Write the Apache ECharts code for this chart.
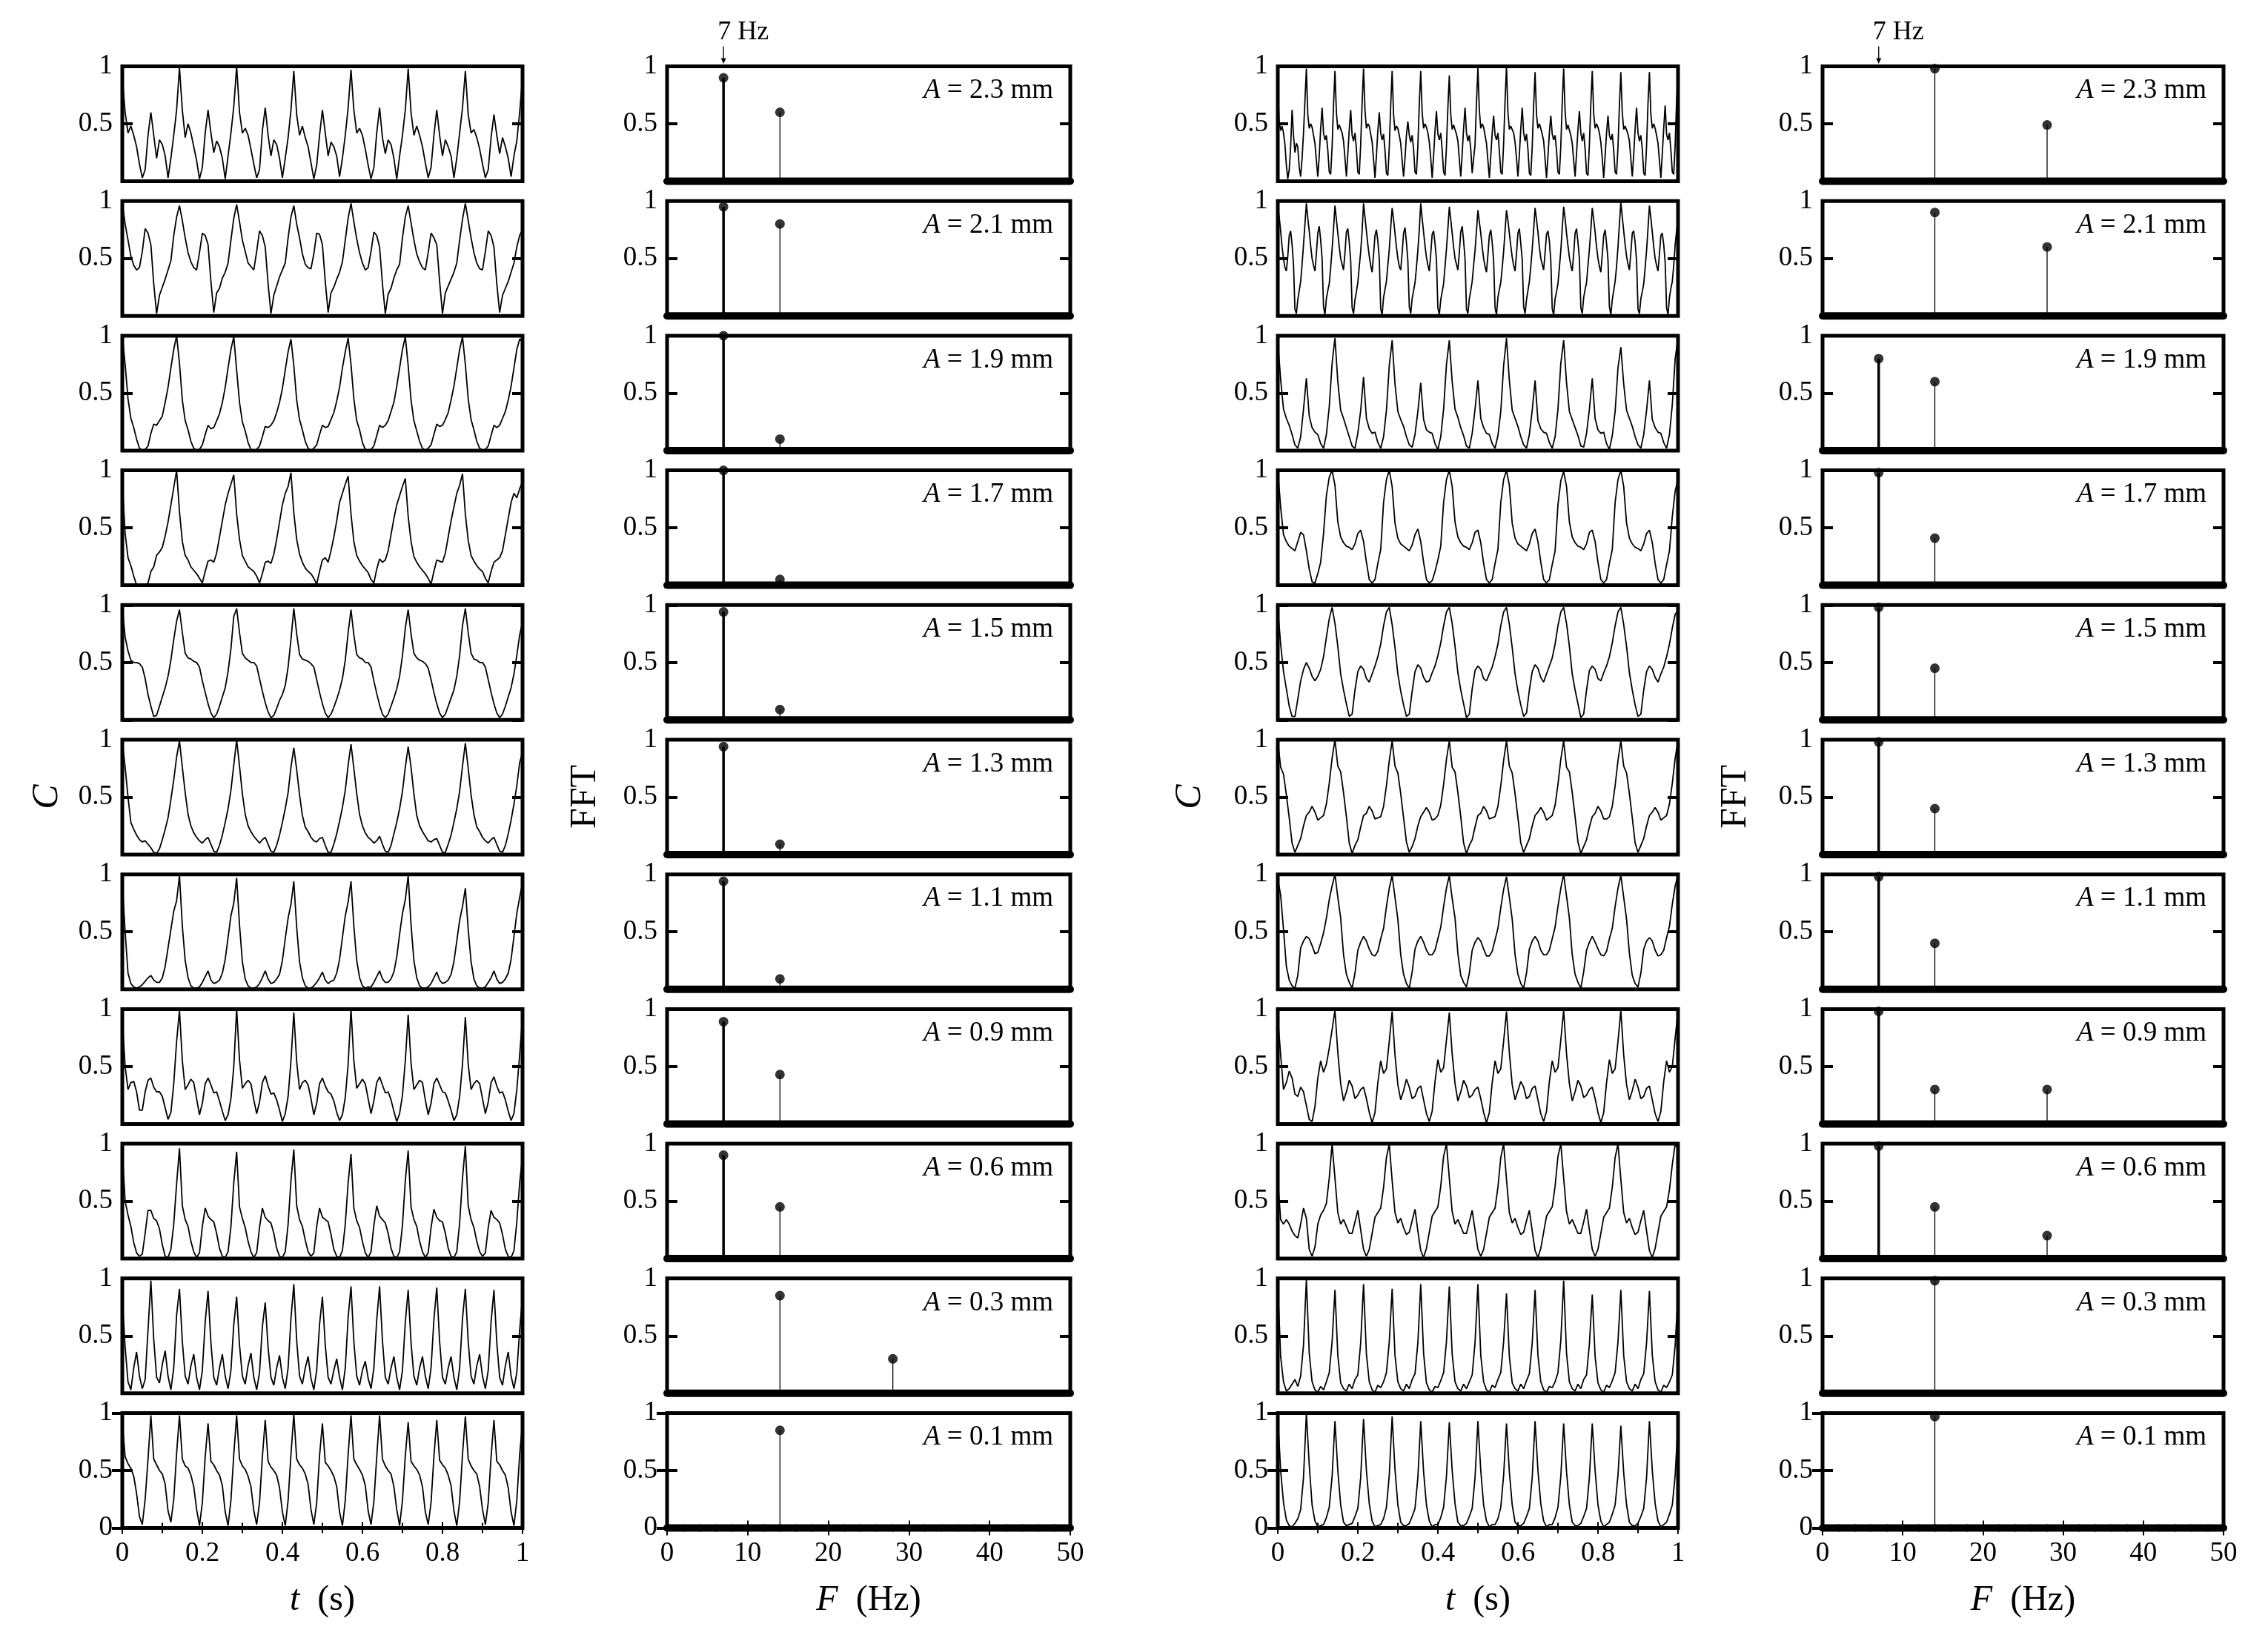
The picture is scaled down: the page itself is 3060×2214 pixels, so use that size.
<!DOCTYPE html>
<html><head><meta charset="utf-8">
<script src="https://cdn.jsdelivr.net/npm/echarts@6/dist/echarts.min.js"></script>
<style>html,body{margin:0;padding:0;background:#fff}#c{width:3060px;height:2214px}</style>
</head><body><div id="c"></div>
<script>
// ---------- DATA ----------
const amplitudeLabels = ['2.3','2.1','1.9','1.7','1.5','1.3','1.1','0.9','0.6','0.3','0.1'];
const timeTickLabels = ['0','0.2','0.4','0.6','0.8','1'];
const freqTickLabels = ['0','10','20','30','40','50'];

// Left column concentration C(t), samples evenly spread over 0..1 s
const L1 = [0.90,0.60,0.42,0.48,0.40,0.30,0.15,0.03,0.10,0.40,0.60,0.40,0.20,0.36,0.32,0.22,0.03,0.20,0.40,0.62,
0.99,0.62,0.38,0.50,0.42,0.30,0.18,0.02,0.12,0.42,0.62,0.42,0.25,0.35,0.30,0.20,0.02,0.22,0.42,0.65,
1.00,0.60,0.42,0.46,0.40,0.28,0.15,0.03,0.10,0.44,0.64,0.40,0.22,0.36,0.32,0.20,0.03,0.20,0.38,0.62,
0.96,0.58,0.40,0.48,0.38,0.30,0.16,0.02,0.14,0.40,0.62,0.42,0.22,0.34,0.30,0.22,0.04,0.20,0.40,0.64,
0.97,0.62,0.42,0.46,0.40,0.28,0.14,0.02,0.12,0.42,0.64,0.38,0.24,0.36,0.32,0.20,0.02,0.22,0.40,0.62,
0.98,0.60,0.40,0.48,0.40,0.30,0.16,0.03,0.12,0.40,0.62,0.40,0.22,0.36,0.30,0.22,0.03,0.20,0.42,0.64,
0.96,0.58,0.42,0.45,0.38,0.28,0.15,0.03,0.10,0.38,0.58,0.40,0.24,0.38,0.30,0.20,0.04,0.22,0.35,0.60,
0.90];
const L2 = [0.98,0.80,0.66,0.52,0.44,0.40,0.42,0.56,0.76,0.72,0.62,0.28,0.02,0.18,0.25,0.32,0.40,0.48,0.70,0.86,
0.96,0.83,0.68,0.55,0.47,0.42,0.40,0.55,0.72,0.70,0.62,0.30,0.03,0.20,0.24,0.33,0.38,0.46,0.66,0.85,
0.97,0.82,0.66,0.56,0.46,0.43,0.40,0.56,0.74,0.70,0.60,0.28,0.02,0.18,0.26,0.34,0.40,0.46,0.68,0.86,
0.96,0.80,0.68,0.54,0.45,0.42,0.41,0.54,0.72,0.71,0.62,0.30,0.03,0.20,0.25,0.32,0.38,0.47,0.66,0.85,
0.98,0.82,0.67,0.55,0.46,0.40,0.42,0.56,0.73,0.70,0.60,0.28,0.02,0.19,0.24,0.33,0.40,0.45,0.68,0.86,
0.96,0.81,0.66,0.54,0.47,0.42,0.40,0.55,0.72,0.68,0.62,0.30,0.02,0.20,0.26,0.32,0.38,0.46,0.66,0.84,
0.98,0.83,0.68,0.55,0.46,0.41,0.40,0.56,0.74,0.70,0.60,0.28,0.03,0.18,0.24,0.30,0.38,0.46,0.60,0.70,
0.75];
const L3 = [1.00,0.75,0.45,0.28,0.20,0.10,0.02,0.00,0.01,0.04,0.15,0.23,0.22,0.26,0.30,0.42,0.55,0.72,0.88,
1.00,0.76,0.44,0.26,0.18,0.08,0.02,0.00,0.01,0.05,0.14,0.22,0.19,0.20,0.26,0.32,0.42,0.55,0.72,0.88,
0.99,0.70,0.42,0.25,0.17,0.07,0.01,0.00,0.01,0.04,0.12,0.21,0.20,0.22,0.26,0.33,0.42,0.54,0.70,0.86,
0.97,0.74,0.44,0.27,0.18,0.08,0.02,0.00,0.02,0.05,0.14,0.22,0.20,0.21,0.27,0.33,0.43,0.55,0.72,0.86,
0.98,0.75,0.45,0.26,0.18,0.07,0.01,0.00,0.01,0.04,0.13,0.22,0.20,0.22,0.26,0.34,0.42,0.56,0.72,0.88,
0.99,0.74,0.44,0.26,0.17,0.08,0.02,0.00,0.02,0.05,0.14,0.23,0.21,0.22,0.27,0.33,0.44,0.56,0.72,0.88,
0.99,0.75,0.45,0.27,0.18,0.08,0.02,0.00,0.01,0.04,0.13,0.22,0.20,0.22,0.28,0.34,0.44,0.56,0.72,0.88,
0.97,0.95];
const L4 = [0.89,0.45,0.24,0.17,0.08,0.00,0.00,0.00,0.00,0.02,0.12,0.16,0.26,0.29,0.33,0.43,0.55,0.70,0.85,
1.00,0.64,0.38,0.26,0.22,0.16,0.13,0.10,0.06,0.02,0.12,0.21,0.22,0.20,0.28,0.42,0.56,0.70,0.80,0.88,
0.96,0.62,0.40,0.26,0.21,0.16,0.14,0.12,0.08,0.02,0.10,0.20,0.21,0.19,0.27,0.40,0.55,0.70,0.80,0.86,
0.98,0.63,0.40,0.27,0.20,0.15,0.12,0.10,0.06,0.01,0.12,0.22,0.24,0.20,0.30,0.42,0.56,0.72,0.80,0.88,
0.95,0.62,0.38,0.26,0.21,0.17,0.14,0.11,0.05,0.02,0.14,0.23,0.20,0.22,0.30,0.44,0.58,0.70,0.78,0.86,
0.93,0.60,0.38,0.25,0.20,0.16,0.13,0.10,0.06,0.01,0.12,0.22,0.21,0.20,0.28,0.42,0.56,0.68,0.80,0.87,
0.97,0.62,0.39,0.26,0.21,0.17,0.14,0.12,0.06,0.02,0.12,0.20,0.22,0.24,0.30,0.44,0.58,0.72,0.80,0.76,
0.84,0.90];
const L5 = [0.98,0.72,0.60,0.52,0.50,0.50,0.49,0.46,0.36,0.22,0.12,0.03,0.04,0.12,0.20,0.28,0.38,0.52,0.70,0.86,
0.96,0.76,0.58,0.54,0.53,0.51,0.50,0.46,0.34,0.24,0.14,0.06,0.02,0.05,0.12,0.20,0.28,0.42,0.62,0.90,
0.97,0.76,0.58,0.54,0.52,0.50,0.50,0.47,0.36,0.25,0.15,0.07,0.02,0.04,0.10,0.17,0.22,0.30,0.46,0.70,
0.97,0.75,0.57,0.53,0.52,0.51,0.49,0.46,0.35,0.24,0.14,0.06,0.02,0.05,0.11,0.18,0.26,0.36,0.52,0.76,
0.96,0.74,0.57,0.54,0.53,0.50,0.50,0.46,0.34,0.23,0.13,0.05,0.02,0.05,0.12,0.19,0.27,0.38,0.56,0.80,
0.96,0.75,0.58,0.54,0.52,0.51,0.49,0.45,0.35,0.24,0.14,0.06,0.02,0.05,0.12,0.19,0.26,0.38,0.56,0.82,
0.97,0.76,0.58,0.53,0.52,0.50,0.50,0.46,0.35,0.24,0.14,0.06,0.02,0.05,0.12,0.20,0.28,0.40,0.56,0.74,
0.85];
const L6 = [0.98,0.76,0.50,0.28,0.22,0.17,0.13,0.11,0.12,0.09,0.06,0.02,0.01,0.05,0.13,0.22,0.32,0.48,0.65,0.85,
0.99,0.76,0.54,0.35,0.25,0.19,0.15,0.12,0.10,0.13,0.15,0.09,0.03,0.02,0.08,0.17,0.28,0.40,0.56,0.78,
1.00,0.77,0.53,0.35,0.25,0.20,0.16,0.13,0.10,0.13,0.15,0.09,0.03,0.02,0.08,0.17,0.28,0.40,0.54,0.76,
0.93,0.74,0.52,0.34,0.24,0.20,0.15,0.12,0.11,0.14,0.15,0.08,0.02,0.02,0.09,0.18,0.29,0.41,0.56,0.78,
0.96,0.75,0.53,0.35,0.25,0.19,0.15,0.13,0.10,0.12,0.16,0.09,0.03,0.02,0.08,0.18,0.28,0.40,0.55,0.76,
0.94,0.76,0.53,0.34,0.25,0.20,0.16,0.12,0.11,0.13,0.14,0.08,0.02,0.02,0.09,0.17,0.28,0.40,0.55,0.77,
0.97,0.75,0.52,0.35,0.24,0.20,0.15,0.12,0.10,0.13,0.15,0.09,0.03,0.02,0.08,0.18,0.30,0.44,0.60,0.80,
0.89];
const L7 = [0.92,0.50,0.14,0.05,0.02,0.01,0.02,0.04,0.07,0.10,0.12,0.08,0.06,0.06,0.10,0.20,0.36,0.52,0.68,0.77,
0.99,0.55,0.25,0.10,0.03,0.01,0.01,0.02,0.06,0.11,0.16,0.08,0.05,0.06,0.08,0.14,0.26,0.45,0.64,0.75,
0.97,0.56,0.24,0.09,0.03,0.01,0.01,0.02,0.05,0.10,0.16,0.09,0.05,0.06,0.09,0.13,0.25,0.44,0.62,0.74,
0.94,0.54,0.24,0.10,0.03,0.01,0.01,0.03,0.06,0.10,0.15,0.08,0.05,0.07,0.08,0.14,0.26,0.45,0.64,0.76,
0.94,0.55,0.25,0.10,0.03,0.01,0.02,0.02,0.06,0.11,0.16,0.09,0.06,0.06,0.09,0.15,0.28,0.48,0.66,0.78,
0.99,0.56,0.25,0.10,0.03,0.01,0.01,0.02,0.05,0.10,0.15,0.08,0.05,0.06,0.08,0.13,0.24,0.42,0.60,0.72,
0.88,0.52,0.24,0.09,0.03,0.01,0.01,0.02,0.06,0.10,0.16,0.09,0.05,0.06,0.09,0.14,0.26,0.46,0.66,0.80,
0.93];
const L8 = [0.90,0.50,0.30,0.36,0.37,0.28,0.12,0.12,0.28,0.38,0.40,0.32,0.28,0.28,0.24,0.14,0.04,0.10,0.35,0.72,
0.99,0.55,0.30,0.34,0.39,0.36,0.22,0.08,0.18,0.35,0.40,0.34,0.27,0.28,0.20,0.11,0.03,0.08,0.22,0.50,
1.00,0.56,0.31,0.35,0.38,0.35,0.21,0.09,0.19,0.36,0.42,0.33,0.26,0.27,0.21,0.12,0.02,0.09,0.24,0.55,
0.97,0.54,0.30,0.36,0.38,0.34,0.22,0.08,0.18,0.35,0.40,0.33,0.28,0.26,0.20,0.10,0.03,0.08,0.23,0.52,
1.00,0.55,0.31,0.35,0.39,0.35,0.22,0.09,0.20,0.36,0.41,0.34,0.27,0.28,0.21,0.11,0.02,0.09,0.25,0.55,
0.95,0.53,0.30,0.34,0.38,0.36,0.21,0.08,0.18,0.35,0.40,0.34,0.28,0.27,0.20,0.12,0.03,0.08,0.24,0.52,
0.93,0.52,0.30,0.35,0.38,0.35,0.22,0.09,0.19,0.36,0.41,0.33,0.27,0.28,0.21,0.11,0.03,0.09,0.30,0.60,
0.93];
const L9 = [0.92,0.50,0.38,0.28,0.14,0.05,0.02,0.04,0.22,0.42,0.42,0.35,0.33,0.26,0.12,0.02,0.01,0.08,0.30,0.65,
0.96,0.46,0.34,0.28,0.15,0.06,0.01,0.05,0.28,0.44,0.37,0.34,0.32,0.22,0.09,0.02,0.01,0.06,0.28,0.66,
0.93,0.45,0.35,0.27,0.15,0.06,0.01,0.05,0.27,0.44,0.36,0.33,0.31,0.22,0.09,0.02,0.01,0.06,0.30,0.68,
0.95,0.46,0.34,0.28,0.16,0.06,0.02,0.05,0.28,0.44,0.36,0.34,0.32,0.21,0.08,0.02,0.01,0.07,0.30,0.66,
0.91,0.44,0.33,0.27,0.15,0.05,0.01,0.06,0.29,0.46,0.37,0.34,0.31,0.22,0.09,0.02,0.01,0.06,0.29,0.68,
0.94,0.45,0.34,0.28,0.15,0.06,0.01,0.05,0.27,0.43,0.36,0.33,0.32,0.22,0.09,0.02,0.01,0.06,0.31,0.70,
0.98,0.46,0.34,0.27,0.15,0.06,0.02,0.05,0.27,0.42,0.36,0.34,0.31,0.21,0.08,0.02,0.01,0.07,0.32,0.66,
0.89];
const L10 = [0.82,0.40,0.10,0.03,0.22,0.36,0.15,0.04,0.12,0.55,
0.98,0.47,0.14,0.09,0.25,0.37,0.15,0.03,0.22,0.68,
0.91,0.45,0.15,0.08,0.24,0.34,0.14,0.03,0.20,0.62,
0.89,0.44,0.14,0.07,0.22,0.34,0.15,0.04,0.20,0.60,
0.84,0.42,0.15,0.08,0.24,0.35,0.14,0.03,0.18,0.58,
0.79,0.40,0.14,0.07,0.22,0.33,0.14,0.04,0.22,0.65,
0.95,0.46,0.15,0.08,0.22,0.32,0.13,0.03,0.20,0.60,
0.84,0.42,0.14,0.08,0.20,0.30,0.14,0.03,0.22,0.66,
0.93,0.45,0.15,0.07,0.20,0.28,0.13,0.04,0.22,0.64,
0.93,0.46,0.14,0.08,0.22,0.32,0.14,0.03,0.20,0.62,
0.90,0.44,0.15,0.07,0.22,0.32,0.15,0.04,0.22,0.64,
0.92,0.45,0.14,0.08,0.22,0.32,0.14,0.03,0.22,0.65,
0.91,0.45,0.15,0.08,0.24,0.34,0.15,0.04,0.20,0.62,
0.90,0.44,0.14,0.07,0.24,0.36,0.15,0.04,0.18,0.55,
0.84];
const L11 = [0.91,0.62,0.56,0.52,0.45,0.30,0.10,0.03,0.25,0.60,
0.98,0.60,0.55,0.50,0.47,0.38,0.15,0.05,0.25,0.65,
0.98,0.60,0.54,0.52,0.46,0.36,0.16,0.02,0.22,0.62,
0.91,0.58,0.55,0.50,0.46,0.37,0.14,0.02,0.24,0.64,
0.98,0.60,0.54,0.51,0.45,0.36,0.15,0.03,0.22,0.62,
0.94,0.58,0.53,0.50,0.46,0.35,0.14,0.02,0.24,0.64,
0.99,0.60,0.55,0.52,0.47,0.38,0.16,0.03,0.22,0.63,
0.91,0.57,0.54,0.50,0.45,0.36,0.14,0.02,0.24,0.64,
0.98,0.60,0.55,0.51,0.46,0.37,0.15,0.03,0.23,0.62,
0.98,0.60,0.54,0.50,0.47,0.36,0.16,0.02,0.24,0.63,
0.92,0.58,0.54,0.51,0.46,0.36,0.14,0.03,0.22,0.62,
0.94,0.59,0.55,0.52,0.46,0.37,0.15,0.02,0.23,0.64,
0.97,0.60,0.54,0.50,0.47,0.36,0.16,0.03,0.22,0.62,
0.94,0.58,0.55,0.50,0.46,0.35,0.14,0.02,0.24,0.64,
0.91];

// Right column concentration C(t)
const R1 = [0.80,0.52,0.44,0.48,0.42,0.32,0.14,0.02,0.10,0.30,0.62,0.40,0.25,0.33,0.30,0.12,0.04,0.20,0.42,0.70,
0.98,0.58,0.46,0.50,0.47,0.40,0.33,0.18,0.04,0.22,0.46,0.64,0.42,0.36,0.40,0.27,0.08,0.06,0.30,0.66,
0.96,0.60,0.45,0.49,0.48,0.42,0.35,0.20,0.04,0.24,0.45,0.62,0.40,0.35,0.42,0.28,0.08,0.06,0.32,0.68,
0.98,0.62,0.46,0.50,0.48,0.41,0.34,0.19,0.03,0.22,0.44,0.60,0.42,0.36,0.41,0.27,0.07,0.05,0.30,0.66,
0.96,0.58,0.44,0.48,0.46,0.40,0.33,0.18,0.04,0.20,0.40,0.52,0.40,0.34,0.40,0.28,0.08,0.06,0.31,0.67,
0.96,0.60,0.46,0.50,0.47,0.42,0.34,0.20,0.03,0.22,0.44,0.61,0.41,0.36,0.42,0.27,0.08,0.05,0.30,0.64,
0.92,0.58,0.45,0.49,0.48,0.41,0.35,0.19,0.04,0.24,0.46,0.64,0.42,0.35,0.40,0.28,0.07,0.06,0.32,0.68,
0.99,0.62,0.46,0.50,0.47,0.40,0.33,0.18,0.03,0.22,0.42,0.57,0.40,0.36,0.42,0.27,0.08,0.06,0.33,0.70,
1.00,0.60,0.45,0.48,0.48,0.42,0.34,0.20,0.04,0.23,0.46,0.64,0.42,0.35,0.41,0.28,0.07,0.05,0.30,0.66,
0.95,0.58,0.46,0.50,0.46,0.41,0.35,0.19,0.03,0.22,0.42,0.57,0.41,0.36,0.40,0.27,0.08,0.06,0.31,0.68,
0.98,0.61,0.45,0.49,0.48,0.40,0.33,0.18,0.04,0.24,0.45,0.61,0.42,0.35,0.42,0.28,0.07,0.05,0.32,0.67,
0.96,0.59,0.46,0.50,0.47,0.42,0.34,0.20,0.03,0.22,0.42,0.57,0.40,0.36,0.41,0.27,0.08,0.06,0.30,0.66,
0.95,0.60,0.45,0.48,0.48,0.41,0.35,0.19,0.04,0.23,0.46,0.64,0.42,0.35,0.40,0.28,0.07,0.05,0.31,0.68,
0.95,0.58,0.46,0.50,0.46,0.40,0.33,0.18,0.03,0.24,0.46,0.66,0.41,0.36,0.42,0.27,0.08,0.06,0.32,0.70,
0.92];
const R2 = [0.96,0.86,0.74,0.60,0.50,0.42,0.39,0.52,0.70,0.74,0.62,0.45,0.06,0.02,0.14,0.22,0.30,0.45,0.62,0.80,
0.98,0.85,0.74,0.61,0.50,0.44,0.39,0.54,0.72,0.78,0.66,0.50,0.08,0.01,0.15,0.22,0.28,0.42,0.58,0.76,
0.96,0.84,0.72,0.60,0.50,0.45,0.40,0.55,0.73,0.76,0.64,0.48,0.07,0.02,0.14,0.21,0.29,0.43,0.56,0.74,
0.98,0.86,0.74,0.62,0.52,0.44,0.38,0.53,0.70,0.75,0.65,0.50,0.06,0.01,0.16,0.23,0.30,0.44,0.58,0.77,
0.94,0.84,0.72,0.60,0.50,0.43,0.40,0.55,0.72,0.77,0.64,0.48,0.08,0.02,0.15,0.22,0.29,0.42,0.57,0.75,
0.98,0.85,0.73,0.61,0.51,0.44,0.39,0.54,0.71,0.74,0.63,0.49,0.07,0.01,0.14,0.21,0.28,0.43,0.58,0.76,
0.95,0.84,0.72,0.60,0.50,0.45,0.40,0.55,0.73,0.78,0.65,0.50,0.06,0.02,0.15,0.22,0.30,0.44,0.57,0.74,
0.92,0.82,0.72,0.60,0.50,0.43,0.38,0.53,0.70,0.75,0.64,0.48,0.07,0.01,0.16,0.23,0.29,0.42,0.56,0.74,
0.92,0.83,0.72,0.61,0.51,0.44,0.39,0.54,0.72,0.76,0.63,0.49,0.08,0.02,0.14,0.22,0.30,0.43,0.58,0.75,
0.94,0.84,0.73,0.60,0.50,0.45,0.40,0.55,0.71,0.74,0.65,0.48,0.06,0.01,0.15,0.21,0.28,0.42,0.57,0.76,
0.95,0.85,0.72,0.61,0.51,0.44,0.39,0.54,0.72,0.76,0.64,0.50,0.07,0.02,0.16,0.23,0.29,0.44,0.58,0.75,
0.94,0.84,0.73,0.60,0.50,0.43,0.38,0.53,0.70,0.75,0.63,0.49,0.08,0.01,0.14,0.22,0.30,0.43,0.60,0.80,
0.99,0.86,0.74,0.62,0.52,0.45,0.40,0.55,0.72,0.74,0.64,0.48,0.06,0.02,0.15,0.21,0.28,0.42,0.57,0.76,
0.96,0.85,0.73,0.60,0.50,0.44,0.39,0.54,0.70,0.72,0.62,0.47,0.07,0.01,0.16,0.24,0.30,0.44,0.62,0.74,
0.85];
const R3 = [0.95,0.62,0.36,0.28,0.22,0.14,0.05,0.02,0.12,0.36,0.63,0.30,0.20,0.16,0.14,0.06,0.02,0.14,0.38,0.76,
0.98,0.60,0.35,0.28,0.20,0.12,0.04,0.02,0.15,0.35,0.64,0.28,0.19,0.15,0.16,0.07,0.02,0.12,0.35,0.74,
0.96,0.58,0.34,0.27,0.21,0.12,0.05,0.03,0.14,0.34,0.59,0.27,0.18,0.16,0.15,0.06,0.01,0.12,0.36,0.75,
0.96,0.60,0.36,0.29,0.20,0.13,0.04,0.02,0.15,0.36,0.61,0.28,0.20,0.15,0.14,0.06,0.02,0.13,0.34,0.74,
0.98,0.61,0.35,0.28,0.21,0.12,0.05,0.02,0.14,0.35,0.61,0.26,0.19,0.16,0.15,0.07,0.02,0.12,0.36,0.76,
0.96,0.59,0.34,0.27,0.20,0.13,0.04,0.03,0.15,0.36,0.63,0.28,0.18,0.15,0.16,0.06,0.01,0.13,0.34,0.72,
0.90,0.58,0.35,0.28,0.21,0.12,0.05,0.02,0.14,0.35,0.61,0.27,0.20,0.16,0.15,0.07,0.02,0.14,0.40,0.80,
0.98];
const R4 = [1.00,0.68,0.44,0.38,0.34,0.32,0.30,0.38,0.46,0.44,0.30,0.14,0.03,0.02,0.10,0.20,0.45,0.78,0.94,
1.00,0.87,0.55,0.42,0.37,0.34,0.33,0.31,0.36,0.45,0.48,0.38,0.20,0.05,0.02,0.05,0.19,0.31,0.72,0.92,
1.00,0.86,0.54,0.41,0.36,0.34,0.32,0.30,0.35,0.44,0.49,0.38,0.20,0.05,0.02,0.04,0.12,0.22,0.34,0.72,0.92,
1.00,0.86,0.55,0.42,0.37,0.34,0.33,0.31,0.37,0.46,0.48,0.37,0.19,0.05,0.02,0.05,0.19,0.31,0.72,0.92,
1.00,0.87,0.54,0.41,0.36,0.34,0.32,0.30,0.36,0.45,0.49,0.38,0.20,0.05,0.02,0.05,0.18,0.30,0.70,0.91,
0.99,0.86,0.55,0.42,0.37,0.34,0.33,0.31,0.36,0.46,0.48,0.38,0.20,0.05,0.02,0.05,0.19,0.31,0.72,0.92,
1.00,0.86,0.54,0.41,0.36,0.33,0.32,0.30,0.36,0.45,0.48,0.37,0.19,0.05,0.02,0.05,0.18,0.30,0.60,0.82,
0.92];
const R5 = [0.97,0.66,0.42,0.27,0.12,0.03,0.03,0.18,0.34,0.44,0.50,0.45,0.38,0.34,0.38,0.44,0.55,0.72,0.88,
0.98,0.84,0.64,0.40,0.26,0.14,0.03,0.05,0.26,0.42,0.47,0.44,0.36,0.33,0.40,0.47,0.55,0.66,0.82,0.94,
0.98,0.83,0.63,0.40,0.25,0.13,0.03,0.05,0.25,0.42,0.48,0.45,0.37,0.33,0.34,0.41,0.47,0.56,0.67,0.82,0.94,
0.98,0.84,0.64,0.41,0.26,0.14,0.02,0.05,0.27,0.43,0.47,0.44,0.36,0.34,0.40,0.46,0.55,0.66,0.82,0.94,
0.98,0.83,0.63,0.40,0.25,0.13,0.03,0.06,0.26,0.42,0.48,0.45,0.37,0.33,0.40,0.47,0.54,0.66,0.82,0.94,
0.98,0.84,0.64,0.40,0.26,0.14,0.02,0.05,0.26,0.43,0.47,0.44,0.36,0.34,0.41,0.47,0.55,0.67,0.82,0.94,
0.98,0.83,0.64,0.41,0.26,0.13,0.03,0.05,0.26,0.42,0.47,0.44,0.37,0.33,0.40,0.46,0.55,0.66,0.80,0.92,
0.95];
const R6 = [0.99,0.76,0.70,0.52,0.32,0.10,0.02,0.08,0.14,0.25,0.34,0.37,0.42,0.37,0.30,0.32,0.34,0.44,0.62,0.84,
1.00,0.77,0.72,0.54,0.33,0.10,0.01,0.08,0.13,0.24,0.34,0.36,0.42,0.38,0.31,0.32,0.33,0.42,0.60,0.82,
0.99,0.77,0.71,0.53,0.32,0.11,0.02,0.07,0.14,0.25,0.33,0.37,0.41,0.37,0.30,0.31,0.34,0.43,0.61,0.83,
0.99,0.76,0.72,0.54,0.33,0.10,0.01,0.08,0.13,0.24,0.34,0.36,0.42,0.38,0.31,0.32,0.33,0.42,0.60,0.82,
0.99,0.77,0.71,0.53,0.32,0.10,0.02,0.08,0.14,0.25,0.34,0.37,0.41,0.37,0.30,0.32,0.34,0.43,0.61,0.83,
0.99,0.76,0.72,0.54,0.33,0.11,0.01,0.07,0.13,0.24,0.33,0.36,0.42,0.38,0.31,0.31,0.33,0.42,0.60,0.82,
0.99,0.77,0.71,0.53,0.32,0.10,0.02,0.08,0.14,0.25,0.34,0.37,0.41,0.37,0.30,0.32,0.34,0.44,0.62,0.84,
0.99];
const R7 = [0.96,0.82,0.52,0.20,0.08,0.03,0.01,0.12,0.36,0.42,0.46,0.44,0.38,0.31,0.32,0.40,0.49,0.62,0.78,0.90,
1.00,0.80,0.62,0.30,0.13,0.06,0.01,0.14,0.34,0.41,0.46,0.42,0.35,0.30,0.29,0.33,0.44,0.53,0.72,0.88,
0.99,0.80,0.61,0.30,0.13,0.05,0.01,0.15,0.35,0.42,0.46,0.41,0.34,0.30,0.30,0.34,0.44,0.54,0.72,0.88,
0.99,0.79,0.62,0.31,0.12,0.06,0.02,0.14,0.34,0.41,0.45,0.42,0.35,0.29,0.29,0.33,0.43,0.53,0.71,0.87,
0.98,0.80,0.61,0.30,0.13,0.05,0.01,0.14,0.35,0.42,0.46,0.42,0.34,0.30,0.30,0.34,0.44,0.54,0.72,0.88,
1.00,0.81,0.62,0.30,0.13,0.06,0.01,0.15,0.34,0.41,0.46,0.41,0.35,0.30,0.29,0.33,0.44,0.53,0.72,0.88,
0.99,0.80,0.61,0.31,0.12,0.05,0.02,0.14,0.35,0.42,0.45,0.42,0.34,0.29,0.30,0.34,0.45,0.55,0.74,0.90,
0.99];
const R8 = [0.93,0.60,0.30,0.36,0.46,0.40,0.26,0.24,0.32,0.28,0.16,0.04,0.02,0.15,0.40,0.55,0.45,0.52,0.66,0.82,
0.99,0.62,0.35,0.20,0.28,0.38,0.33,0.22,0.25,0.30,0.32,0.22,0.10,0.01,0.10,0.36,0.55,0.44,0.48,0.72,
0.98,0.60,0.34,0.21,0.29,0.39,0.32,0.22,0.24,0.31,0.33,0.21,0.09,0.02,0.11,0.37,0.56,0.45,0.49,0.73,
0.97,0.61,0.35,0.20,0.28,0.38,0.33,0.23,0.25,0.30,0.32,0.22,0.10,0.01,0.10,0.36,0.55,0.44,0.48,0.72,
0.98,0.62,0.34,0.21,0.29,0.37,0.32,0.22,0.24,0.31,0.33,0.21,0.09,0.02,0.11,0.37,0.55,0.45,0.49,0.73,
0.99,0.61,0.35,0.20,0.28,0.38,0.33,0.23,0.25,0.30,0.32,0.22,0.10,0.01,0.10,0.36,0.56,0.44,0.48,0.72,
0.99,0.60,0.34,0.21,0.29,0.39,0.32,0.22,0.24,0.31,0.33,0.21,0.09,0.02,0.11,0.37,0.55,0.45,0.50,0.75,
0.98];
const R9 = [0.69,0.34,0.30,0.34,0.30,0.24,0.20,0.18,0.30,0.44,0.35,0.08,0.02,0.10,0.30,0.38,0.42,0.48,0.70,
1.00,0.70,0.40,0.30,0.34,0.28,0.22,0.22,0.32,0.42,0.25,0.08,0.02,0.08,0.22,0.36,0.40,0.44,0.62,0.88,
1.00,0.68,0.40,0.31,0.35,0.27,0.21,0.23,0.33,0.43,0.24,0.07,0.01,0.09,0.23,0.37,0.41,0.45,0.63,0.89,
1.00,0.70,0.41,0.30,0.34,0.28,0.22,0.22,0.32,0.42,0.25,0.08,0.02,0.08,0.22,0.36,0.40,0.44,0.62,0.88,
1.00,0.69,0.40,0.31,0.35,0.27,0.21,0.23,0.33,0.42,0.24,0.07,0.01,0.09,0.23,0.37,0.41,0.45,0.63,0.89,
1.00,0.70,0.41,0.30,0.34,0.28,0.22,0.22,0.32,0.43,0.25,0.08,0.02,0.08,0.22,0.36,0.40,0.44,0.62,0.88,
1.00,0.69,0.40,0.31,0.35,0.27,0.21,0.23,0.33,0.42,0.24,0.07,0.01,0.09,0.23,0.37,0.41,0.45,0.60,0.82,
1.00,0.95];
const R10 = [0.95,0.32,0.10,0.02,0.04,0.08,0.12,0.06,0.15,0.42,
0.99,0.35,0.10,0.03,0.01,0.06,0.03,0.10,0.18,0.45,
0.90,0.33,0.09,0.04,0.02,0.08,0.04,0.12,0.16,0.44,
0.95,0.34,0.10,0.03,0.01,0.07,0.05,0.10,0.18,0.45,
0.91,0.33,0.10,0.04,0.02,0.08,0.04,0.12,0.17,0.44,
0.95,0.35,0.09,0.03,0.01,0.06,0.05,0.11,0.18,0.45,
0.93,0.34,0.10,0.04,0.02,0.08,0.04,0.10,0.16,0.44,
0.95,0.33,0.10,0.03,0.01,0.07,0.05,0.12,0.18,0.45,
0.87,0.32,0.09,0.04,0.02,0.08,0.04,0.11,0.17,0.44,
0.90,0.33,0.10,0.03,0.01,0.06,0.05,0.10,0.18,0.46,
0.98,0.35,0.10,0.04,0.02,0.08,0.04,0.12,0.16,0.43,
0.86,0.32,0.09,0.03,0.01,0.07,0.05,0.11,0.18,0.45,
0.90,0.33,0.10,0.04,0.02,0.08,0.04,0.12,0.17,0.44,
0.89,0.33,0.10,0.03,0.01,0.07,0.05,0.10,0.16,0.42,
0.86];
const R11 = [0.97,0.50,0.22,0.07,0.02,0.01,0.04,0.08,0.16,0.44,
1.00,0.55,0.20,0.06,0.01,0.02,0.03,0.09,0.18,0.45,
0.93,0.50,0.20,0.05,0.02,0.03,0.04,0.10,0.17,0.44,
0.95,0.50,0.21,0.06,0.01,0.02,0.03,0.08,0.18,0.46,
0.97,0.51,0.20,0.05,0.02,0.02,0.04,0.10,0.17,0.44,
0.93,0.49,0.20,0.06,0.01,0.03,0.03,0.09,0.18,0.45,
0.92,0.50,0.21,0.05,0.02,0.02,0.04,0.10,0.17,0.44,
0.93,0.50,0.20,0.06,0.01,0.03,0.03,0.08,0.18,0.46,
0.91,0.49,0.20,0.05,0.02,0.02,0.04,0.10,0.17,0.44,
0.93,0.50,0.21,0.06,0.01,0.03,0.03,0.09,0.18,0.45,
0.91,0.49,0.20,0.05,0.02,0.02,0.04,0.10,0.17,0.44,
0.91,0.50,0.20,0.06,0.01,0.03,0.05,0.12,0.20,0.46,
0.89,0.48,0.20,0.05,0.02,0.02,0.04,0.10,0.17,0.44,
0.93,0.50,0.21,0.06,0.01,0.03,0.05,0.12,0.20,0.46,
0.91];

// FFT peaks [frequency Hz, normalised amplitude]
const fftLeft = [
  [[7,0.90],[14,0.60]], [[7,0.95],[14,0.80]], [[7,1.00],[14,0.10]], [[7,1.00],[14,0.05]],
  [[7,0.94],[14,0.09]], [[7,0.94],[14,0.09]], [[7,0.94],[14,0.09]], [[7,0.89],[14,0.43]],
  [[7,0.90],[14,0.45]], [[14,0.85],[28,0.30]], [[14,0.85]]
];
const fftRight = [
  [[14,0.98],[28,0.49]], [[14,0.90],[28,0.60]], [[7,0.80],[14,0.60]], [[7,0.98],[14,0.41]],
  [[7,0.98],[14,0.45]], [[7,0.98],[14,0.40]], [[7,0.98],[14,0.40]], [[7,0.98],[14,0.30],[28,0.30]],
  [[7,0.98],[14,0.45],[28,0.20]], [[14,0.98]], [[14,0.97]]
];
const fftBaseline = [[0,0],[50,0]];
const markedFrequency = 7;

const leftSignals = [L1,L2,L3,L4,L5,L6,L7,L8,L9,L10,L11];
const rightSignals = [R1,R2,R3,R4,R5,R6,R7,R8,R9,R10,R11];

// ---------- LAYOUT ----------
const FONT = 'Liberation Serif';
const COLS = [{left:165,width:540},{left:900,width:544},{left:1724,width:540},{left:2459,width:541}];
const ROW_TOP = 89.5, ROW_PITCH = 181.7, ROW_H = 155;
const grids = [], xAxes = [], yAxes = [], series = [], graphics = [];
const fftAxisRefs = {};

function richName(){
  return {fontSize:48, fontFamily:FONT, color:'#000',
    rich:{i:{fontSize:48, fontFamily:FONT, fontStyle:'italic', color:'#000'},
          n:{fontSize:48, fontFamily:FONT, color:'#000'}}};
}

function addPanel(col, row, kind, payload){
  const gi = grids.length;
  const bottom = row === 10;
  const top = ROW_TOP + row*ROW_PITCH;
  grids.push({left:COLS[col].left, top:top, width:COLS[col].width, height:ROW_H,
    show:true, borderColor:'#000', borderWidth:5, backgroundColor:'rgba(0,0,0,0)',
    containLabel:false, outerBoundsMode:'none'});
  const isT = kind === 't';
  const xmax = isT ? 1 : 50, xint = isT ? 0.2 : 10, minorSplit = isT ? 2 : 5;
  const tickLabels = isT ? timeTickLabels : freqTickLabels;
  const xi = xAxes.length;
  const baseX = {gridIndex:gi, type:'value', min:0, max:xmax, interval:xint,
    axisLine:{show:false}, splitLine:{show:false},
    axisTick:{show:bottom, inside:true, length:isT?8:10, lineStyle:{color:'#000', width:2}},
    minorTick:{show:bottom, splitNumber:minorSplit, length:isT?7:5, lineStyle:{color:'#000', width:2}},
    minorSplitLine:{show:false}};
  xAxes.push(Object.assign({}, baseX, {position:'bottom',
    axisLabel:{show:bottom, margin:16, fontSize:37, fontFamily:FONT, color:'#000',
      formatter:(v)=> tickLabels[Math.round(v/xint)]},
    name: bottom ? (isT ? '{i|t}{n|  (s)}' : '{i|F}{n|  (Hz)}') : '',
    nameLocation:'middle', nameGap:74, nameTextStyle:richName()}));
  if (bottom) xAxes.push(Object.assign({}, baseX, {position:'top', axisLabel:{show:false}}));
  const yi = yAxes.length;
  const baseY = {gridIndex:gi, type:'value', min:0, max:1, interval:0.5,
    axisLine:{show:false}, splitLine:{show:false},
    axisTick:{show:true, inside:true, length:14, lineStyle:{color:'#000', width:4}}};
  yAxes.push(Object.assign({}, baseY, {position:'left',
    axisLabel:{show:true, margin:13, fontSize:37, fontFamily:FONT, color:'#000',
      formatter:(v)=> v===0 ? (bottom ? '0' : '') : (v===1 ? '1' : '0.5')}}));
  yAxes.push(Object.assign({}, baseY, {position:'right', axisLabel:{show:false}}));

  if (isT) {
    const n = payload.length - 1;
    series.push({type:'line', xAxisIndex:xi, yAxisIndex:yi, silent:true, animation:false,
      showSymbol:false, symbol:'none', lineStyle:{color:'#000', width:1.8},
      data: payload.map((v,i)=>[i/n, v])});
  } else {
    series.push({type:'line', xAxisIndex:xi, yAxisIndex:yi, silent:true, animation:false,
      symbol:'none', clip:false, z:4, lineStyle:{color:'#000', width:10, cap:'round'},
      data: fftBaseline});
    payload.forEach(p=>{
      series.push({type:'line', xAxisIndex:xi, yAxisIndex:yi, silent:true, animation:false,
        symbol:'none', z:3, lineStyle:{color:'#000', width: p[0]===markedFrequency ? 3.5 : 1.3},
        data:[[p[0],0],[p[0],p[1]]]});
    });
    series.push({type:'scatter', xAxisIndex:xi, yAxisIndex:yi, silent:true, animation:false,
      symbol:'circle', symbolSize:13, clip:false, z:5, itemStyle:{color:'#000'}, data: payload});
    graphics.push({type:'text', x: COLS[col].left + COLS[col].width - 23, y: top + 33, silent:true,
      style:{text:'{i|A} = ' + amplitudeLabels[row] + ' mm', align:'right', verticalAlign:'middle',
        fontSize:37, fontFamily:FONT, fill:'#000',
        rich:{i:{fontSize:37, fontFamily:FONT, fontStyle:'italic', fill:'#000'}}}});
    if (row === 0) fftAxisRefs[col] = {xAxisIndex:xi, yAxisIndex:yi};
  }
}

for (let r=0; r<11; r++){
  addPanel(0, r, 't', leftSignals[r]);
  addPanel(1, r, 'f', fftLeft[r]);
  addPanel(2, r, 't', rightSignals[r]);
  addPanel(3, r, 'f', fftRight[r]);
}

// vertical axis titles
[[64,'C',true],[790,'FFT',false],[1606,'C',true],[2342,'FFT',false]].forEach(([x,t,it])=>{
  graphics.push({type:'text', x:x, y:1075, rotation:Math.PI/2, silent:true,
    style:{text:t, align:'center', verticalAlign:'middle', fontSize:50, fontFamily:FONT,
      fontStyle: it ? 'italic' : 'normal', fill:'#000'}});
});

const chart = echarts.init(document.getElementById('c'), null, {renderer:'canvas'});
chart.setOption({animation:false, backgroundColor:'#fff',
  grid:grids, xAxis:xAxes, yAxis:yAxes, series:series});

// "7 Hz" markers located through the FFT axes
[1,3].forEach(col=>{
  const ref = fftAxisRefs[col];
  const p = chart.convertToPixel(ref, [markedFrequency, 1]);
  const px = p[0], py = p[1];
  graphics.push({type:'text', x:px-8, y:py-46, silent:true,
    style:{text: markedFrequency + ' Hz', align:'left', verticalAlign:'middle', fontSize:36, fontFamily:FONT, fill:'#000'}});
  graphics.push({type:'line', silent:true, shape:{x1:px, y1:py-27, x2:px, y2:py-8}, style:{stroke:'#000', lineWidth:1.3}});
  graphics.push({type:'polygon', silent:true, shape:{points:[[px-3.5,py-11],[px+3.5,py-11],[px,py-3.5]]}, style:{fill:'#000'}});
});
chart.setOption({graphic: graphics});
</script>
</body></html>
